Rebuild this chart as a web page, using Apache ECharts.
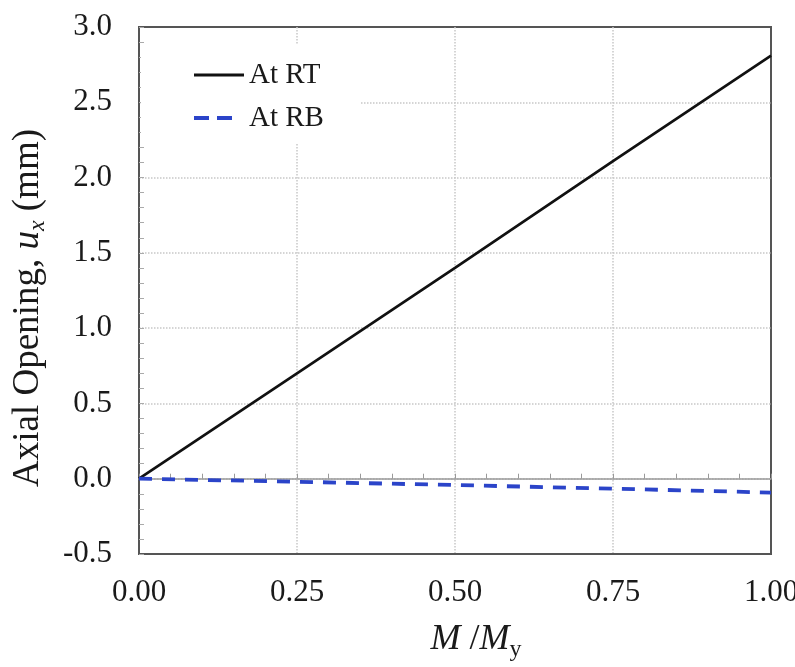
<!DOCTYPE html>
<html>
<head>
<meta charset="utf-8">
<script src="https://cdn.jsdelivr.net/npm/echarts@6/dist/echarts.min.js"></script>
<style>
  html, body { margin: 0; padding: 0; background: #fff; }
  #main { width: 795px; height: 667px; }
</style>
</head>
<body>
<div id="main"></div>
<script>
// M/My ratio and axial opening ux (mm)
var ratio = [0, 0.25, 0.5, 0.75, 1.0];
var atRT = [0, 0.70, 1.40, 2.11, 2.81];
var atRB = [0, -0.020, -0.042, -0.066, -0.092];
var seriesNames = ['At RT', 'At RB'];

function pairs(xs, ys) {
    var out = [];
    for (var i = 0; i < xs.length; i++) {
        out.push([xs[i], ys[i]]);
    }
    return out;
}

var serif = '"Liberation Serif", "DejaVu Serif", serif';
var ink = '#1a1a1a';
var blue = '#2b44c9';
var myChart = echarts.init(document.getElementById('main'));

var gridLine = { show: true, showMinLine: false, showMaxLine: false,
                 lineStyle: { color: '#c8c8c8', type: 'dotted', width: 1.5 } };

var option = {
    backgroundColor: '#fff',
    animation: false,
    grid: {
        left: 139, right: 24, top: 27, bottom: 113,
        outerBoundsMode: 'none', containLabel: false,
        show: true, borderColor: '#555', borderWidth: 2
    },
    legend: {
        orient: 'vertical',
        left: 141, top: 45,
        padding: [15, 37, 10, 51],
        backgroundColor: '#fff',
        itemWidth: 50, itemHeight: 14, itemGap: 13,
        itemStyle: { opacity: 0 },
        data: [
            { name: seriesNames[0], lineStyle: { color: '#111', width: 3 } },
            { name: seriesNames[1], lineStyle: { color: blue, width: 4, type: [15, 8, 15, 20] } }
        ],
        textStyle: { fontFamily: serif, fontSize: 29, color: ink, lineHeight: 30 }
    },
    xAxis: [{
        type: 'value', min: 0, max: 1, interval: 0.25,
        axisLine: { show: true, onZero: false, lineStyle: { color: '#555', width: 2 } },
        axisTick: { show: false },
        axisLabel: {
            margin: 23, fontFamily: serif, fontSize: 31, color: ink,
            formatter: function (v) { return v.toFixed(2); }
        },
        splitLine: gridLine
    }, {
        type: 'value', min: 0, max: 1, interval: 0.25, position: 'bottom',
        axisLine: { show: true, onZero: true, lineStyle: { color: '#9a9a9a', width: 1.5 } },
        axisTick: { show: true, inside: true, length: 5, lineStyle: { color: '#9a9a9a' } },
        minorTick: { show: true, splitNumber: 5, length: 5, lineStyle: { color: '#9a9a9a' } },
        axisLabel: { show: false },
        splitLine: { show: false }
    }],
    yAxis: {
        type: 'value', min: -0.5, max: 3.0, interval: 0.5,
        axisLine: { show: true, lineStyle: { color: '#555', width: 2 } },
        axisTick: { show: true, inside: true, length: 5, lineStyle: { color: '#aaa' } },
        minorTick: { show: true, splitNumber: 5, length: 5, lineStyle: { color: '#aaa' } },
        axisLabel: {
            margin: 27, fontFamily: serif, fontSize: 31, color: ink,
            formatter: function (v) { return v.toFixed(1); }
        },
        splitLine: gridLine
    },
    series: [{
        name: seriesNames[0],
        type: 'line',
        xAxisIndex: 0,
        data: pairs(ratio, atRT),
        symbol: 'none',
        lineStyle: { color: '#111', width: 2.7 },
        itemStyle: { color: '#111' }
    }, {
        name: seriesNames[1],
        type: 'line',
        xAxisIndex: 0,
        data: pairs(ratio, atRB),
        symbol: 'none',
        lineStyle: { color: blue, width: 3.8, type: [13, 10] },
        itemStyle: { color: blue }
    }],
    graphic: [{
        type: 'text',
        x: 476, y: 640,
        style: {
            text: '{i|M} /{i|M}{s|y}',
            align: 'center', verticalAlign: 'middle',
            rich: {
                i: { fontFamily: serif, fontSize: 36, fontStyle: 'italic', color: ink, lineHeight: 44 },
                s: { fontFamily: serif, fontSize: 24, color: ink, lineHeight: 44, verticalAlign: 'bottom' }
            },
            fontFamily: serif, fontSize: 36, fill: ink, lineHeight: 44
        }
    }, {
        type: 'text',
        x: 28, y: 308,
        rotation: Math.PI / 2,
        style: {
            text: 'Axial Opening, {i|u}{s|x} (mm)',
            align: 'center', verticalAlign: 'middle',
            rich: {
                i: { fontFamily: serif, fontSize: 37, fontStyle: 'italic', color: ink, lineHeight: 44 },
                s: { fontFamily: serif, fontSize: 24, fontStyle: 'italic', color: ink, lineHeight: 44, verticalAlign: 'bottom' }
            },
            fontFamily: serif, fontSize: 37, fill: ink, lineHeight: 44
        }
    }]
};

myChart.setOption(option);
</script>
</body>
</html>
